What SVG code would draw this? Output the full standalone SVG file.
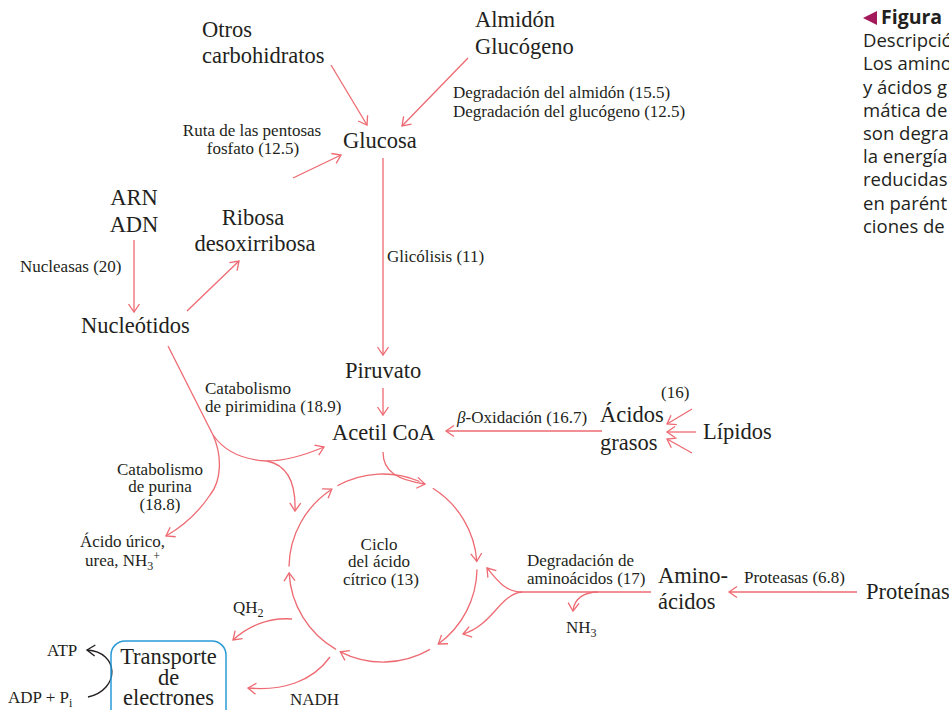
<svg xmlns="http://www.w3.org/2000/svg" width="949" height="710" viewBox="0 0 949 710">
<style>
.L{font-family:"Liberation Serif","Times New Roman",serif;font-size:22.5px;fill:#231f20}
.S{font-family:"Liberation Serif","Times New Roman",serif;font-size:17px;fill:#231f20}
.m{text-anchor:middle}
.cap{font-family:"Open Sans","Liberation Sans",sans-serif;font-size:18.5px;fill:#231f20}
.r{fill:none;stroke:#ee6a72;stroke-width:1.3}
.ra{fill:none;stroke:#ee6a72;stroke-width:1.3;marker-end:url(#ah)}
.k{fill:none;stroke:#231f20;stroke-width:1.4;marker-end:url(#ahk)}
</style>
<defs>
<marker id="ah" markerUnits="userSpaceOnUse" markerWidth="14" markerHeight="14" viewBox="-10 -7 12 14" refX="0" refY="0" orient="auto">
<path d="M-8,-5.5 L0,0 L-8,5.5" fill="none" stroke="#ee6a72" stroke-width="1.3"/>
</marker>
<marker id="ahk" markerUnits="userSpaceOnUse" markerWidth="14" markerHeight="14" viewBox="-10 -7 12 14" refX="0" refY="0" orient="auto">
<path d="M-8,-5.5 L0,0 L-8,5.5" fill="none" stroke="#231f20" stroke-width="1.4"/>
</marker>
</defs>
<rect width="949" height="710" fill="#ffffff"/>

<g id="caption">
<polygon points="863,18 877,11 877,25" fill="#a3195b"/>
<text x="881" y="24" class="cap" style="font-weight:bold;font-size:19.5px">Figura</text>
<text class="cap" x="863" y="47.2">Descripció</text>
<text class="cap" x="863" y="70.4">Los amino</text>
<text class="cap" x="863" y="93.6">y ácidos g</text>
<text class="cap" x="863" y="116.8">mática de</text>
<text class="cap" x="863" y="140">son degra</text>
<text class="cap" x="863" y="163.2">la energía</text>
<text class="cap" x="863" y="186.4">reducidas</text>
<text class="cap" x="863" y="209.6">en parént</text>
<text class="cap" x="863" y="232.8">ciones de</text>
</g>

<g id="connectors">
<path class="ra" d="M331,65 L367,125"/>
<path class="ra" d="M468,58 L402,126"/>
<path class="ra" d="M293,178 L341,155"/>
<path class="ra" d="M383,158 L383,355"/>
<path class="ra" d="M383,388 L383,415"/>
<path class="ra" d="M134,240 L134,312"/>
<path class="ra" d="M187,311 L239,261"/>
<path class="r" d="M168,346 L213,435"/>
<path class="ra" d="M213,435 C225,452 245,460 267,461 C287,461 305,455 324,447"/>
<path class="ra" d="M267,461 C287,465 296,482 295,511"/>
<path class="ra" d="M213,435 C222,455 222,480 210,495 C200,510 185,525 166,536"/>
<path class="ra" d="M602,431 L446,431"/>
<path class="ra" d="M692,409 L667,424"/>
<path class="ra" d="M696,432 L667,432"/>
<path class="ra" d="M692,453 L667,439"/>
<path class="ra" d="M383,452 C383,472 398,480 425,484"/>
<path class="ra" d="M289,566.4 A94,94 0 0 1 331.8,489.2"/>
<path class="r" d="M337.4,485.8 A94,94 0 0 1 419.7,481.5"/>
<path class="ra" d="M432.8,488.3 A94,94 0 0 1 476.8,561.4"/>
<path class="ra" d="M477,569.6 A94,94 0 0 1 438.3,644"/>
<path class="ra" d="M430,649.4 A94,94 0 0 1 340.3,651.8"/>
<path class="ra" d="M336,649.4 A94,94 0 0 1 289.1,572.9"/>
<path class="ra" d="M292,619 C268,617 247,627 233,640"/>
<path class="ra" d="M330,657 C312,682 282,691 248,688"/>
<path class="r" d="M651,592 L522,592"/>
<path class="ra" d="M522,592 C505,592 497,580 487,568"/>
<path class="ra" d="M522,592 C500,594 492,626 463,634"/>
<path class="ra" d="M598,592 C585,592 574,598 573,611"/>
<path class="ra" d="M857,592 L729,592"/>
<path class="k" d="M88,697 C120,690 120,652 87,650"/>
</g>

<g id="otros"><text class="L" x="202" y="37">Otros</text><text class="L" x="202" y="63">carbohidratos</text></g>
<g id="almidon"><text class="L" x="475" y="27">Almidón</text><text class="L" x="475" y="54">Glucógeno</text></g>
<g id="lbl-degradacion"><text class="S" x="453" y="98">Degradación del almidón (15.5)</text><text class="S" x="453" y="117">Degradación del glucógeno (12.5)</text></g>
<g id="lbl-pentosas"><text class="S m" x="252" y="136">Ruta de las pentosas</text><text class="S m" x="253" y="154">fosfato (12.5)</text></g>
<g id="glucosa"><text class="L" x="343" y="148">Glucosa</text></g>
<g id="arn"><text class="L m" x="134" y="205">ARN</text><text class="L m" x="134" y="232">ADN</text></g>
<g id="lbl-nucleasas"><text class="S" x="20" y="272">Nucleasas (20)</text></g>
<g id="ribosa"><text class="L m" x="253" y="225">Ribosa</text><text class="L m" x="255" y="251">desoxirribosa</text></g>
<g id="nucleotidos"><text class="L" x="81" y="333">Nucleótidos</text></g>
<g id="lbl-glicolisis"><text class="S" x="387" y="262">Glicólisis (11)</text></g>
<g id="piruvato"><text class="L" x="345" y="378">Piruvato</text></g>
<g id="acetilcoa"><text class="L" x="332" y="440">Acetil CoA</text></g>
<g id="lbl-pirimidina"><text class="S" x="205" y="394">Catabolismo</text><text class="S" x="205" y="412">de pirimidina (18.9)</text></g>
<g id="lbl-purina"><text class="S m" x="160" y="475">Catabolismo</text><text class="S m" x="160" y="492">de purina</text><text class="S m" x="160" y="510">(18.8)</text></g>
<g id="acido-urico"><text class="S" x="80" y="547">Ácido úrico,</text><text class="S" x="85" y="566">urea, NH<tspan dy="4" font-size="12">3</tspan><tspan dy="-10" font-size="12">+</tspan></text></g>
<g id="lbl-boxidacion"><text class="S" x="457" y="423"><tspan font-style="italic">β</tspan>-Oxidación (16.7)</text></g>
<g id="acidos-grasos"><text class="L" x="600" y="422">Ácidos</text><text class="L" x="600" y="450">grasos</text></g>
<g id="lbl-16"><text class="S" x="661" y="398">(16)</text></g>
<g id="lipidos"><text class="L" x="703" y="439">Lípidos</text></g>
<g id="ciclo"><text class="S m" x="379" y="550">Ciclo</text><text class="S m" x="379" y="567">del ácido</text><text class="S m" x="381" y="585">cítrico (13)</text></g>
<g id="qh2"><text class="S" x="233" y="613">QH<tspan dy="4" font-size="12">2</tspan></text></g>
<g id="nadh"><text class="S" x="290" y="705">NADH</text></g>
<g id="atp"><text class="S" x="47" y="656">ATP</text></g>
<g id="adp"><text class="S" x="8" y="703">ADP + P<tspan dy="4" font-size="12">i</tspan></text></g>
<g id="transporte">
<rect x="111" y="641" width="115" height="82" rx="14" fill="none" stroke="#2a9ad6" stroke-width="1.5"/>
<text class="L m" x="168.5" y="664">Transporte</text><text class="L m" x="168.5" y="685">de</text><text class="L m" x="168.5" y="705">electrones</text>
</g>
<g id="lbl-aminodeg"><text class="S" x="527" y="566">Degradación de</text><text class="S" x="527" y="584">aminoácidos (17)</text></g>
<g id="nh3"><text class="S" x="566" y="633">NH<tspan dy="4" font-size="12">3</tspan></text></g>
<g id="aminoacidos"><text class="L" x="658" y="583">Amino-</text><text class="L" x="658" y="609">ácidos</text></g>
<g id="lbl-proteasas"><text class="S" x="744" y="583">Proteasas (6.8)</text></g>
<g id="proteinas"><text class="L" x="866" y="599">Proteínas</text></g>
</svg>
